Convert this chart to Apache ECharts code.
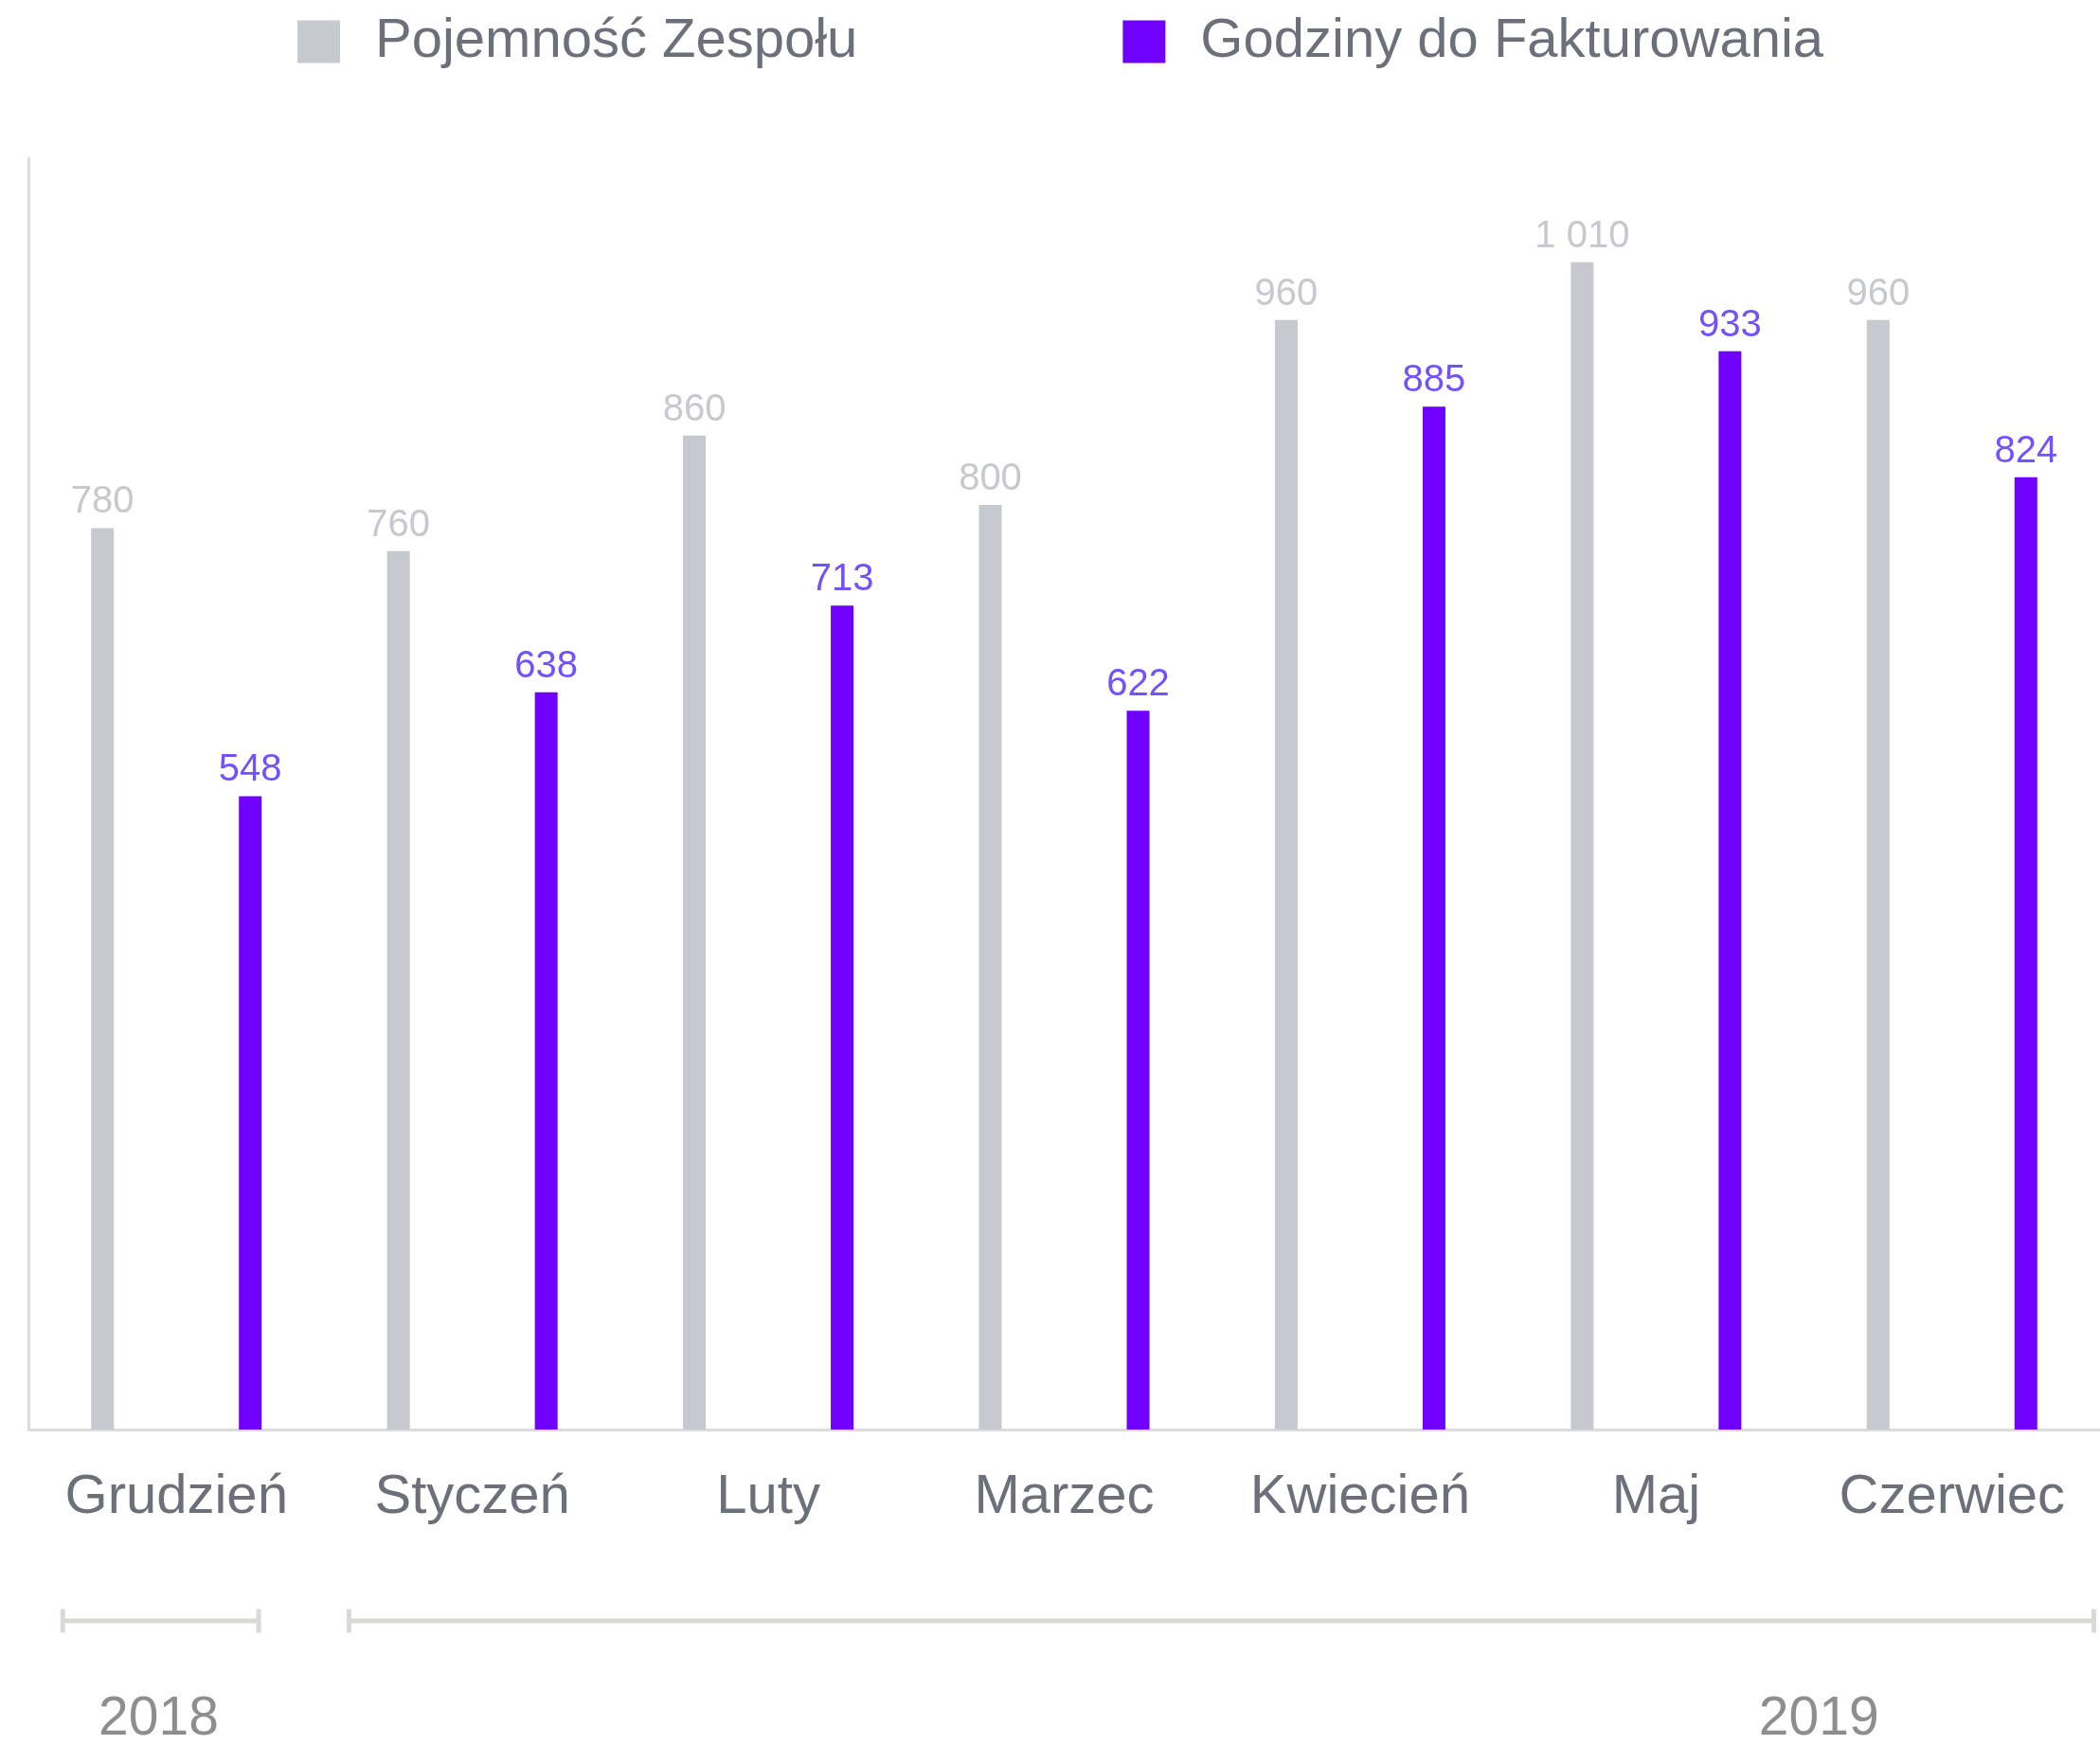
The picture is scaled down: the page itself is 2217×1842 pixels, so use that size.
<!DOCTYPE html>
<html>
<head>
<meta charset="utf-8">
<title>Pojemność Zespołu vs Godziny do Fakturowania</title>
<script src="https://cdn.jsdelivr.net/npm/echarts@6/dist/echarts.min.js"></script>
<style>
  html, body { margin: 0; padding: 0; background: #fff; }
  #chart { width: 2217px; height: 1842px; }
</style>
</head>
<body>
<div id="chart"></div>
<script>
// data
var months = ["Grudzień", "Styczeń", "Luty", "Marzec", "Kwiecień", "Maj", "Czerwiec"];
var capacity = [780, 760, 860, 800, 960, 1010, 960];
var billable = [548, 638, 713, 622, 885, 933, 824];
var years = ["2018", "2019"];

// bracket spans under the axis, in category units (0 = centre of first month)
var yearLayout = [
  { from: -0.384, to: 0.278, label: -0.06 },
  { from: 0.583, to: 6.479, label: 5.55 },
];

var FONT = "'Liberation Sans', Arial, Helvetica, sans-serif";
var GREY = "#c7c9d0";
var PURPLE = "#7000ff";
var TEXT = "#6b707a";
var LINE = "#dcdcdc";

function fmt(v) {
  return String(v).replace(/\B(?=(\d{3})+(?!\d))/g, " ");
}

var chart = echarts.init(document.getElementById("chart"));

chart.setOption({
  animation: false,
  textStyle: { fontFamily: FONT },
  legend: {
    top: 10,
    left: 309,
    itemWidth: 45,
    itemHeight: 45,
    itemGap: 280,
    icon: "rect",
    textStyle: { fontSize: 58, color: TEXT, fontFamily: FONT, padding: [0, 0, 0, 32] },
    data: ["Pojemność Zespołu", "Godziny do Fakturowania"],
  },
  grid: {
    left: 30,
    right: 0,
    top: 167,
    bottom: 333,
    containLabel: false,
  },
  xAxis: {
    type: "category",
    data: months,
    axisLine: { lineStyle: { color: LINE, width: 3 } },
    axisTick: { inside: true, length: 8, lineStyle: { color: LINE, width: 2 } },
    axisLabel: { fontSize: 58, color: TEXT, margin: 43, fontFamily: FONT },
  },
  yAxis: {
    type: "value",
    min: 0,
    max: 1100,
    axisLine: { show: true, lineStyle: { color: LINE, width: 3 } },
    axisTick: { show: false },
    axisLabel: { show: false },
    splitLine: { show: false },
  },
  series: [
    {
      name: "Pojemność Zespołu",
      type: "bar",
      data: capacity,
      barWidth: 24,
      barGap: "550%",
      itemStyle: { color: GREY },
      label: {
        show: true,
        position: "top",
        distance: 7,
        fontSize: 40,
        color: GREY,
        fontFamily: FONT,
        formatter: function (p) { return fmt(p.value); },
      },
    },
    {
      name: "Godziny do Fakturowania",
      type: "bar",
      data: billable,
      barWidth: 24,
      barGap: "550%",
      itemStyle: { color: PURPLE },
      label: {
        show: true,
        position: "top",
        distance: 7,
        fontSize: 40,
        color: "#7451ff",
        fontFamily: FONT,
        formatter: function (p) { return fmt(p.value); },
      },
    },
  ],
});

// year brackets, placed from the category axis
function drawYears() {
  var x0 = chart.convertToPixel({ xAxisIndex: 0 }, 0);
  var x1 = chart.convertToPixel({ xAxisIndex: 0 }, 1);
  var w = x1 - x0;
  var yLine = 1711;
  var capH = 25;
  var els = [];
  yearLayout.forEach(function (g, i) {
    var a = x0 + g.from * w;
    var b = x0 + g.to * w;
    var style = { stroke: "#d9d9d6", lineWidth: 5 };
    els.push({ type: "line", shape: { x1: a, y1: yLine, x2: b, y2: yLine }, style: style, silent: true });
    els.push({ type: "line", shape: { x1: a, y1: yLine - capH / 2, x2: a, y2: yLine + capH / 2 }, style: style, silent: true });
    els.push({ type: "line", shape: { x1: b, y1: yLine - capH / 2, x2: b, y2: yLine + capH / 2 }, style: style, silent: true });
    els.push({
      type: "text",
      x: x0 + g.label * w,
      y: 1815,
      style: {
        text: years[i],
        fontSize: 57,
        fontFamily: FONT,
        fill: "#8e8e8e",
        align: "center",
        verticalAlign: "middle",
      },
      silent: true,
    });
  });
  chart.setOption({ graphic: els });
}
drawYears();
</script>
</body>
</html>
